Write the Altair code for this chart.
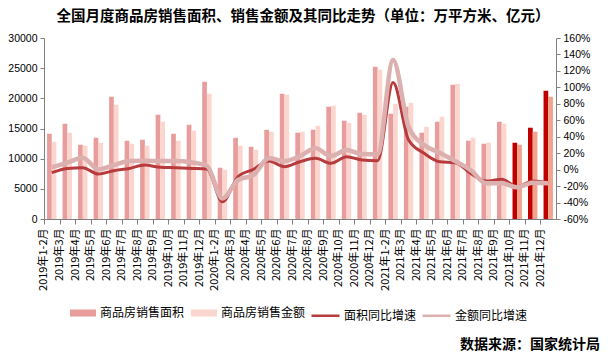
import altair as alt
import pandas as pd

months = [
    "2019年1-2月", "2019年3月", "2019年4月", "2019年5月", "2019年6月", "2019年7月",
    "2019年8月", "2019年9月", "2019年10月", "2019年11月", "2019年12月",
    "2020年1-2月", "2020年3月", "2020年4月", "2020年5月", "2020年6月", "2020年7月",
    "2020年8月", "2020年9月", "2020年10月", "2020年11月", "2020年12月",
    "2021年1-2月", "2021年3月", "2021年4月", "2021年5月", "2021年6月", "2021年7月",
    "2021年8月", "2021年9月", "2021年10月", "2021年11月", "2021年12月",
]
area = [14130, 15790, 12310, 13470, 20270, 12970, 13140, 17280, 14130, 15620, 22750,
        8500, 13470, 11980, 14800, 20760, 14300, 14800, 18610, 16290, 17610, 25230,
        17450, 18610, 14300, 16120, 22250, 12970, 12480, 16120, 12640, 15130, 21260]
amount = [12800, 14300, 12150, 12640, 18940, 12480, 12150, 16120, 12970, 14630, 20760,
          8170, 12150, 11480, 14470, 20600, 14470, 15460, 18770, 15960, 17280, 24740,
          19090, 19260, 15290, 16950, 22420, 13470, 12640, 15790, 12310, 14470, 20260]
area_pct = [-3.7, 1.5, 2.3, -5.3, -1.3, 1.5, 5.6, 2.8, 2.3, 1.5, 0.7,
            -39.0, -8.6, 0.4, 10.4, 3.5, 9.6, 13.7, 7.7, 15.7, 11.7, 10.8,
            105.9, 36.0, 19.8, 9.6, 8.4, -4.5, -13.9, -11.8, -20.8, -13.9, -15.9]
amount_pct = [2.8, 8.4, 14.5, 0.3, 5.6, 10.4, 10.8, 10.4, 10.4, 8.9, 4.7,
              -35.0, -12.6, -6.6, 13.7, 10.4, 16.5, 25.9, 16.5, 23.8, 19.0, 18.6,
              133.4, 52.0, 30.0, 20.6, 10.4, -0.5, -16.6, -16.6, -21.5, -15.9, -16.6]
highlight_months = ["2021年10月", "2021年11月", "2021年12月"]

bar_names = ["商品房销售面积", "商品房销售金额"]
line_names = ["面积同比增速", "金额同比增速"]
title_text = "全国月度商品房销售面积、销售金额及其同比走势（单位：万平方米、亿元）"
source_text = "数据来源：国家统计局"

CJK = "Noto Sans CJK SC"
NUM = "Liberation Sans"
c_area, c_amount = "#E89C9C", "#FBD6CE"
c_area_hl, c_amount_hl = "#C00000", "#F4A28B"
c_line_area, c_line_amount = "#B73B3D", "#DDB0B0"

rows = []
for i, m in enumerate(months):
    h = 1 if m in highlight_months else 0
    rows.append({"month": m, "series": bar_names[0], "value": area[i], "hl": h})
    rows.append({"month": m, "series": bar_names[1], "value": amount[i], "hl": h})
bars_df = pd.DataFrame(rows)

lrows = []
for i, m in enumerate(months):
    lrows.append({"month": m, "lseries": line_names[0], "pct": area_pct[i]})
    lrows.append({"month": m, "lseries": line_names[1], "pct": amount_pct[i]})
lines_df = pd.DataFrame(lrows)

x_enc = alt.X(
    "month:N", sort=months, title=None,
    scale=alt.Scale(paddingInner=0, paddingOuter=0),
    axis=alt.Axis(labelAngle=270, labelFont=CJK, labelFontSize=11, labelColor="black",
                  tickOffset=-7.76, labelOffset=0, tickSize=5, labelPadding=4,
                  domainColor="#808080", tickColor="#808080", labelOverlap=False,
                  labelBound=False),
)
xoff = alt.XOffset("series:N", sort=bar_names,
                   scale=alt.Scale(domain=bar_names, paddingOuter=0.65, paddingInner=0))
y_left = alt.Y(
    "value:Q", title=None,
    scale=alt.Scale(domain=[0, 30000], nice=False),
    axis=alt.Axis(orient="left", values=list(range(0, 30001, 5000)), format="d", grid=False,
                  labelFont=NUM, labelFontSize=10.5, labelColor="black", tickSize=4,
                  labelPadding=3, domainColor="#808080", tickColor="#808080"),
)
y_right = alt.Y(
    "pct:Q", title=None,
    scale=alt.Scale(domain=[-60, 160], nice=False),
    axis=alt.Axis(orient="right", values=list(range(-60, 161, 20)), grid=False,
                  labelExpr="datum.value + '%'", labelFont=NUM, labelFontSize=10.5,
                  labelColor="black", tickSize=4, labelPadding=3,
                  domainColor="#808080", tickColor="#808080"),
)
hl_cond = [
    {"test": f"datum.hl == 1 && datum.series == '{bar_names[0]}'", "value": c_area_hl},
    {"test": f"datum.hl == 1 && datum.series == '{bar_names[1]}'", "value": c_amount_hl},
]
fill_enc = alt.Fill(
    "series:N",
    scale=alt.Scale(domain=bar_names, range=[c_area, c_amount]),
    legend=alt.Legend(orient="none", legendX=26, legendY=262, direction="horizontal",
                      title=None, symbolType="M-1,-0.27H1V0.27H-1Z", symbolSize=676,
                      symbolStrokeWidth=0, labelFont=CJK, labelFontSize=12,
                      labelColor="black", columnPadding=6, labelOffset=4, padding=0),
    condition=hl_cond,
)
stroke_enc = alt.Stroke(
    "lseries:N",
    scale=alt.Scale(domain=line_names, range=[c_line_area, c_line_amount]),
    legend=alt.Legend(orient="none", legendX=266, legendY=262, direction="horizontal",
                      title=None, symbolType="stroke", symbolSize=784,
                      symbolStrokeWidth=2.5, labelFont=CJK, labelFontSize=12,
                      labelColor="black", columnPadding=0, labelOffset=3, padding=0),
)

bars = alt.Chart(bars_df).mark_bar().encode(
    x=x_enc, xOffset=xoff, y=y_left, fill=fill_enc)

base_lines = alt.Chart(lines_df)
line_area = base_lines.transform_filter(f"datum.lseries == '{line_names[0]}'").mark_line(
    strokeWidth=3, interpolate="monotone").encode(x=x_enc, y=y_right, stroke=stroke_enc)
line_amount = base_lines.transform_filter(f"datum.lseries == '{line_names[1]}'").mark_line(
    strokeWidth=4.5, interpolate="monotone").encode(x=x_enc, y=y_right, stroke=stroke_enc)

src = alt.Chart(pd.DataFrame({"t": [source_text]})).mark_text(
    align="right", baseline="bottom", font=CJK, fontSize=14, fontWeight="bold",
    color="black").encode(text="t:N", x=alt.value(556), y=alt.value(314))

chart = alt.layer(
    bars,
    alt.layer(line_area, line_amount),
    src,
).resolve_scale(y="independent").properties(
    width=512, height=181,
    padding={"left": 36, "top": 30, "right": 44, "bottom": 134},
    autosize=alt.AutoSizeParams(type="none"),
    title=alt.Title(title_text, font=CJK, fontSize=14.5, fontWeight="bold", color="black",
                    anchor="middle", offset=9, dx=3),
).configure_view(stroke=None)

chart.save("out.html", embed_options={"renderer": "svg", "actions": False})
